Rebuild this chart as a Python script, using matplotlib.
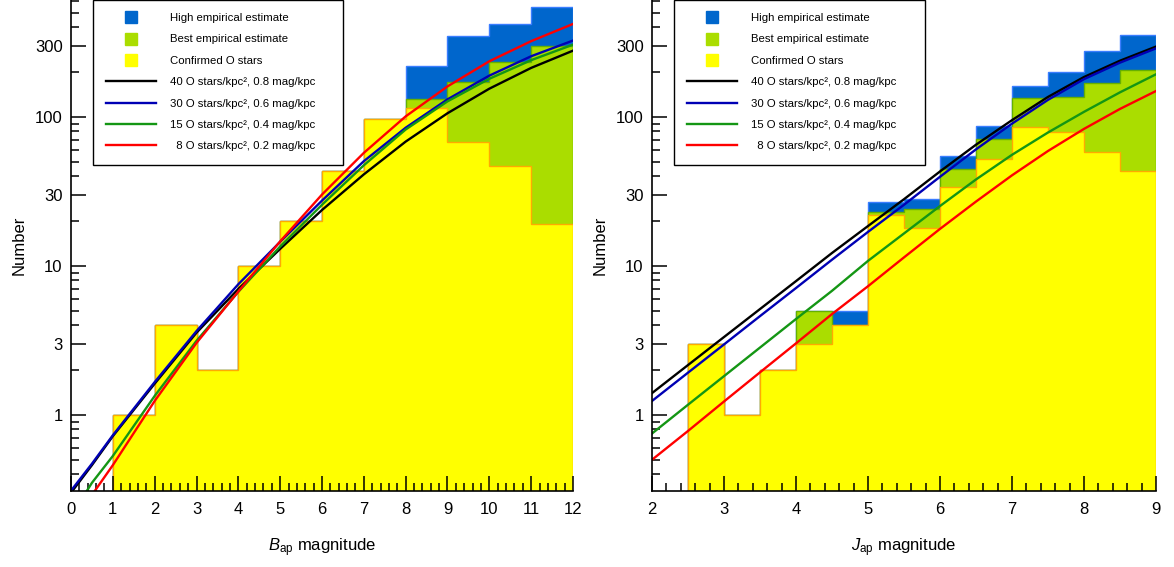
import matplotlib
matplotlib.use('Agg')
import matplotlib.pyplot as plt
import numpy as np
from matplotlib.lines import Line2D
from matplotlib.ticker import FixedLocator, MultipleLocator, NullFormatter

plt.rcParams['font.family'] = ['Liberation Sans', 'DejaVu Sans']
plt.rcParams['mathtext.fontset'] = 'custom'
plt.rcParams['mathtext.rm'] = 'Liberation Sans'
plt.rcParams['mathtext.it'] = 'Liberation Sans:italic'

# ---- B-band histogram (bins of 1 mag, from 1 to 12) ----
b_edges = np.arange(1, 13)
b_confirmed = [1, 4, 2, 10, 20, 43, 96, 115, 68, 47, 19]
b_best = [1, 4, 2, 10, 20, 43, 96, 132, 171, 233, 299]
b_high = [1, 4, 2, 10, 20, 43, 96, 219, 349, 421, 549]

# model curves, B band
b_grid = [0, 0.5, 1, 2, 3, 4, 5, 6, 7, 8, 9, 10, 11, 12]
b_black = [0.30, 0.46, 0.72, 1.62, 3.56, 7.0, 13.0, 23.7, 41.1, 68.2, 105.7, 154.5, 213, 278]
b_blue = [0.31, 0.47, 0.73, 1.66, 3.65, 7.53, 14.5, 27.4, 50.4, 84.5, 131, 189, 255, 325]
b_green = [0.21, 0.35, 0.53, 1.34, 3.14, 6.7, 13.5, 25.7, 47.3, 82.2, 127, 180, 240, 305]
b_red = [0.17, 0.29, 0.46, 1.24, 3.04, 6.73, 14.6, 30.1, 57.3, 100.7, 160, 236, 322, 420]

# ---- J-band histogram (bins of 0.5 mag, from 2.5 to 9) ----
j_edges = np.arange(2.5, 9.01, 0.5)
j_confirmed = [3, 1, 2, 3, 4, 22, 18, 34, 52, 85, 79, 58, 43]
j_best = [3, 1, 2, 5, 4, 23, 24, 45, 71, 134, 135, 168, 206]
j_high = [3, 1, 2, 5, 5, 27, 28, 55, 87, 162, 199, 278, 353]

# model curves, J band
j_grid = [2, 2.5, 3, 3.5, 4, 4.5, 5, 5.5, 6, 6.5, 7, 7.5, 8, 8.5, 9]
j_black = [1.40, 2.16, 3.33, 5.13, 7.9, 12.2, 18.5, 28, 43, 65, 95, 136, 185, 238, 296]
j_blue = [1.24, 1.92, 2.97, 4.60, 7.10, 11.0, 16.9, 25.7, 39.6, 60.5, 90, 130, 179, 231, 288]
j_green = [0.75, 1.17, 1.82, 2.83, 4.4, 6.8, 10.8, 16.5, 25.2, 38, 55.6, 78.5, 108, 146, 193]
j_red = [0.50, 0.78, 1.23, 1.93, 3.02, 4.75, 7.3, 11.4, 17.7, 27, 40.5, 59, 83, 113, 149]

hist_labels = ['High empirical estimate', 'Best empirical estimate', 'Confirmed O stars']
model_labels = ['40 O stars/kpc², 0.8 mag/kpc',
                '30 O stars/kpc², 0.6 mag/kpc',
                '15 O stars/kpc², 0.4 mag/kpc',
                '  8 O stars/kpc², 0.2 mag/kpc']

fill_cols = ['#0066cc', '#aadd00', '#ffff00']
edge_cols = ['#3a7dff', '#66b000', '#ffaa00']
line_cols = ['#000000', '#0000b4', '#149614', '#ff0000']


def panel(ax, edges, hists, grid, curves, xlim, xlabel, minor_x):
    for vals, fc, ec in zip(hists, fill_cols, edge_cols):
        ax.stairs(vals, edges, baseline=0.05, fill=True, facecolor=fc,
                  edgecolor=ec, lw=1.0)
    for vals, c in zip(curves, line_cols):
        ax.plot(grid, vals, color=c, lw=1.7)

    ax.set_yscale('log')
    ax.set_ylim(0.31, 608)
    ax.set_xlim(*xlim)
    ax.yaxis.set_major_locator(FixedLocator([1, 3, 10, 30, 100, 300]))
    ax.yaxis.set_major_formatter(plt.FuncFormatter(lambda v, p: '%g' % v))
    minors = [m * 10.0 ** e for e in range(-1, 3) for m in range(2, 10) if m != 3]
    ax.yaxis.set_minor_locator(FixedLocator(minors))
    ax.yaxis.set_minor_formatter(NullFormatter())
    ax.xaxis.set_major_locator(MultipleLocator(1))
    ax.xaxis.set_minor_locator(MultipleLocator(minor_x))

    for s in ['top', 'right']:
        ax.spines[s].set_visible(False)
    for s in ['left', 'bottom']:
        ax.spines[s].set_linewidth(1.2)
    ax.tick_params(which='both', direction='in', top=False, right=False,
                   labelsize=12, width=1.1)
    ax.tick_params(which='major', length=11)
    ax.tick_params(which='minor', length=5.5)
    ax.tick_params(axis='x', pad=8)
    ax.tick_params(axis='y', pad=6)

    ax.set_ylabel('Number', fontsize=12, labelpad=6)
    ax.set_xlabel(xlabel, fontsize=12, labelpad=14)

    handles = [Line2D([], [], marker='s', ms=8.6, ls='none', color=c) for c in fill_cols]
    handles += [Line2D([], [], color=c, lw=1.7) for c in line_cols]
    leg = ax.legend(handles, hist_labels + model_labels, loc='upper left',
                    bbox_to_anchor=(0.0438, 0.0, 0.498, 1.0), mode='expand',
                    borderaxespad=0, fontsize=8.2,
                    handlelength=4.4, handletextpad=1.23, labelspacing=1.0,
                    borderpad=1.15, fancybox=False, framealpha=1, numpoints=1)
    leg.get_frame().set_edgecolor('black')
    leg.get_frame().set_linewidth(1.0)


fig = plt.figure(figsize=(11.74, 5.67), dpi=100)
ax1 = fig.add_axes([71 / 1174, 76.3 / 567, 502 / 1174, 490.7 / 567])
ax2 = fig.add_axes([652 / 1174, 76.3 / 567, 504 / 1174, 490.7 / 567])

panel(ax1, b_edges, [b_high, b_best, b_confirmed], b_grid,
      [b_black, b_blue, b_green, b_red], (0, 12), r'$B_{\mathrm{ap}}$ magnitude', 0.2)
panel(ax2, j_edges, [j_high, j_best, j_confirmed], j_grid,
      [j_black, j_blue, j_green, j_red], (2, 9), r'$J_{\mathrm{ap}}$ magnitude', 0.2)

fig.savefig('out.png', dpi=100)
